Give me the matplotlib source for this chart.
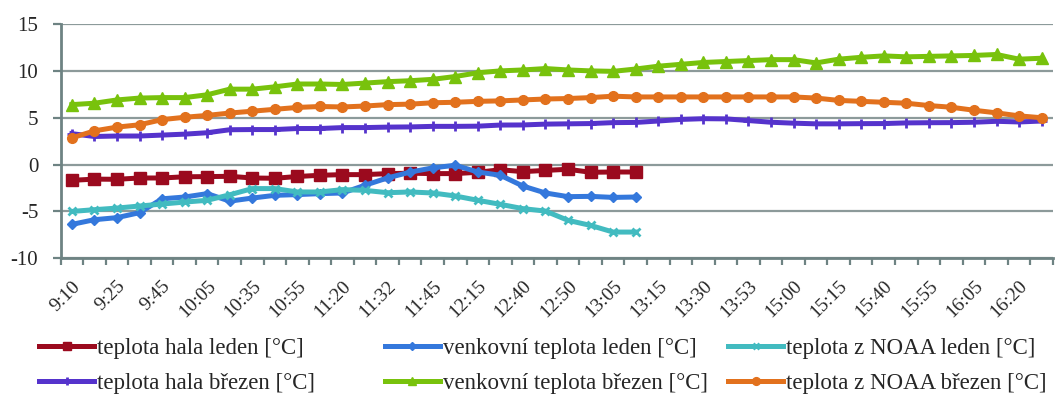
import numpy as np
import matplotlib
matplotlib.use('Agg')
import matplotlib.pyplot as plt

plt.rcParams['font.family'] = ['Liberation Serif', 'DejaVu Serif']
plt.rcParams['axes.unicode_minus'] = False

# every second time step is labelled on the category axis
time_labels = ['9:10', '9:25', '9:45', '10:05', '10:35', '10:55', '11:20', '11:32', '11:45', '12:15',
               '12:40', '12:50', '13:05', '13:15', '13:30', '13:53', '15:00', '15:15', '15:40', '15:55',
               '16:05', '16:20']
n_cat = 44

# January (leden) - 26 readings
hala_leden = [-1.68, -1.55, -1.57, -1.43, -1.43, -1.3, -1.28, -1.25, -1.43, -1.46, -1.27, -1.14, -1.07,
              -1.07, -0.96, -0.92, -0.96, -0.96, -0.82, -0.55, -0.75, -0.62, -0.5, -0.82, -0.79, -0.79]
venk_leden = [-6.38, -5.88, -5.66, -5.13, -3.65, -3.46, -3.1, -3.9, -3.57, -3.28, -3.2, -3.1, -3.03,
              -2.2, -1.42, -0.8, -0.35, -0.07, -0.79, -1.14, -2.29, -3.03, -3.42, -3.39, -3.5, -3.46]
noaa_leden = [-5.0, -4.81, -4.64, -4.42, -4.21, -4.0, -3.81, -3.22, -2.56, -2.56, -2.92, -2.92, -2.67,
              -2.75, -3.0, -2.92, -3.03, -3.35, -3.81, -4.24, -4.7, -4.96, -5.95, -6.49, -7.2, -7.2]

# March (březen) - 44 readings
hala_brezen = [3.3, 3.0, 3.05, 3.05, 3.15, 3.25, 3.4, 3.72, 3.74, 3.74, 3.85, 3.85, 3.95, 3.95, 4.0,
               4.02, 4.08, 4.08, 4.1, 4.22, 4.23, 4.32, 4.35, 4.38, 4.48, 4.5, 4.65, 4.82, 4.9, 4.88,
               4.7, 4.52, 4.42, 4.35, 4.35, 4.37, 4.38, 4.45, 4.47, 4.48, 4.52, 4.62, 4.55, 4.65]
venk_brezen = [6.4, 6.55, 6.9, 7.1, 7.15, 7.15, 7.45, 8.05, 8.05, 8.3, 8.6, 8.6, 8.55, 8.7, 8.85,
               8.95, 9.1, 9.4, 9.8, 10.0, 10.1, 10.25, 10.1, 10.0, 9.95, 10.2, 10.5, 10.7, 10.9, 11.0,
               11.1, 11.2, 11.2, 10.85, 11.25, 11.45, 11.6, 11.5, 11.55, 11.6, 11.65, 11.75, 11.25, 11.35]
noaa_brezen = [2.85, 3.6, 4.0, 4.25, 4.8, 5.05, 5.25, 5.5, 5.7, 5.9, 6.1, 6.2, 6.15, 6.25, 6.4,
               6.45, 6.6, 6.65, 6.75, 6.8, 6.9, 7.0, 7.05, 7.15, 7.3, 7.22, 7.22, 7.22, 7.22, 7.22,
               7.22, 7.22, 7.22, 7.1, 6.85, 6.75, 6.65, 6.55, 6.3, 6.12, 5.8, 5.52, 5.2, 5.0]

series = [
    ('teplota hala leden [°C]', hala_leden, '#9B0A1E', 's', 8),
    ('teplota hala březen [°C]', hala_brezen, '#5533CC', '+', 7),
    ('venkovní teplota leden [°C]', venk_leden, '#3478DC', 'D', 5),
    ('venkovní teplota březen [°C]', venk_brezen, '#78C20C', '^', 8),
    ('teplota z NOAA leden [°C]', noaa_leden, '#42BBC0', 'x', 6),
    ('teplota z NOAA březen [°C]', noaa_brezen, '#E2711D', 'o', 7),
]

axis_col = '#6E8383'
text_col = '#262626'

fig = plt.figure(figsize=(10.63, 3.94), dpi=100)
ax = fig.add_axes([0.057, 0.3444, 0.9335, 0.5946])

handles = []
for name, vals, col, mk, ms in series:
    x = np.arange(len(vals))
    h, = ax.plot(x, vals, color=col, lw=3.6, marker=mk, ms=ms, mew=2 if mk in '+x' else 1,
                 mec=col, mfc=col, label=name, zorder=3, solid_joinstyle='round')
    handles.append(h)

ax.set_xlim(-0.5, n_cat - 0.5)
ax.set_ylim(-10, 15)
ax.set_yticks(np.arange(-10, 16, 5))
ax.yaxis.grid(True, color='#8C9A9A', lw=1.6)
ax.set_axisbelow(True)

ax.set_xticks(np.arange(0, n_cat, 2)[:len(time_labels)])
ax.set_xticklabels(time_labels, rotation=45, ha='right', va='top', rotation_mode='anchor')
ax.set_xticks(np.arange(-0.5, n_cat, 1), minor=True)
ax.tick_params(axis='x', which='major', length=0, pad=14, labelsize=14, labelcolor=text_col)
ax.tick_params(axis='x', which='minor', length=5, width=1.6, color=axis_col)
ax.tick_params(axis='y', length=6, width=1.6, color=axis_col, labelsize=15, labelcolor=text_col, pad=10)

for s in ['top', 'right']:
    ax.spines[s].set_visible(False)
for s in ['left', 'bottom']:
    ax.spines[s].set_color(axis_col)
    ax.spines[s].set_linewidth(2)

col_x = [0.037, 0.362, 0.685]
for i, cx in enumerate(col_x):
    fig.legend(handles=handles[2 * i:2 * i + 2], loc='upper left', bbox_to_anchor=(cx, 0.142),
               frameon=False, fontsize=16.5, handlelength=2.4, handletextpad=0.12, labelspacing=0.62,
               borderaxespad=0, borderpad=0, labelcolor=text_col, markerscale=0.8)

fig.savefig('out.png', dpi=100)
